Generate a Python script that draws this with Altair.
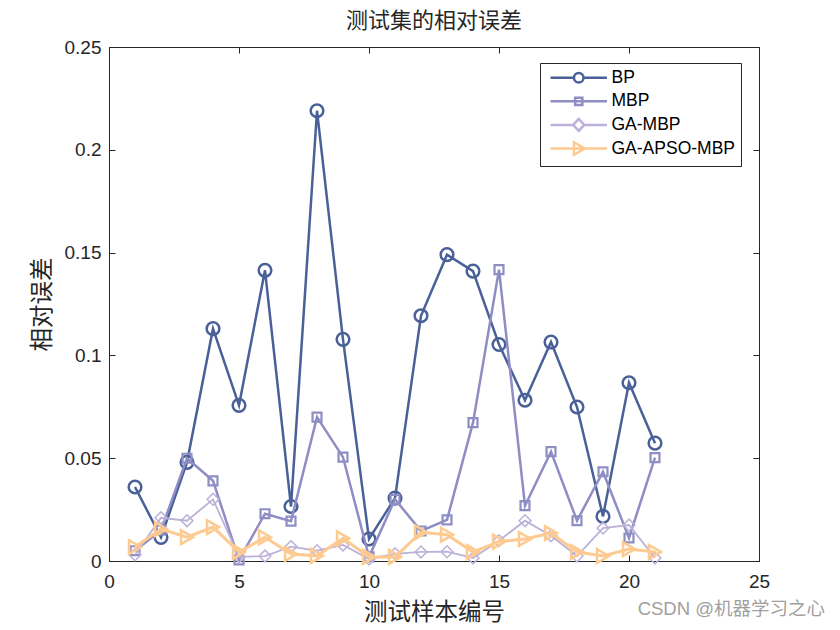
import altair as alt
import pandas as pd

# ---------------- data ----------------
sample_idx = list(range(1, 22))
series_names = ["BP", "MBP", "GA-MBP", "GA-APSO-MBP"]
bp_err = [0.036, 0.0115, 0.048, 0.113, 0.0757, 0.1414, 0.0265, 0.219, 0.1078, 0.0107, 0.0306,
          0.1193, 0.149, 0.141, 0.1053, 0.0782, 0.1065, 0.0749, 0.0217, 0.0867, 0.0573]
mbp_err = [0.005, 0.015, 0.050, 0.039, 0.0005, 0.023, 0.0194, 0.070, 0.0505, 0.002, 0.030,
           0.0146, 0.020, 0.0673, 0.1417, 0.0269, 0.0532, 0.0196, 0.0434, 0.0112, 0.0503]
ga_mbp_err = [0.003, 0.021, 0.0196, 0.030, 0.002, 0.0024, 0.007, 0.005, 0.0078, 0.001, 0.0035,
              0.0044, 0.0045, 0.0015, 0.0099, 0.0196, 0.0123, 0.0024, 0.016, 0.0175, 0.0015]
ga_apso_err = [0.0068, 0.0155, 0.0116, 0.0165, 0.0044, 0.0115, 0.0034, 0.0025, 0.011, 0.002, 0.002,
               0.014, 0.0128, 0.0044, 0.0094, 0.0107, 0.0136, 0.0044, 0.0024, 0.0058, 0.0044]
x_ticks = [0, 5, 10, 15, 20, 25]
y_ticks = [0, 0.05, 0.1, 0.15, 0.2, 0.25]
title_text = "测试集的相对误差"
x_title = "测试样本编号"
y_title = "相对误差"
watermark = "CSDN @机器学习之心"

# ---------------- styles ----------------
colors = ["#4a6098", "#8e8dc4", "#bcb1d9", "#fdca90"]
line_widths = [2.5, 2.5, 1.8, 3.0]
marker_shapes = ["circle", "square", "diamond", "triangle-right"]
marker_sizes = [160, 80, 140, 190]
marker_widths = [2.5, 2.2, 1.5, 2.5]

L = 4.7
legend_paths = [
    f"M{-L},0H-0.8M0.8,0H{L}M-0.8,0A0.8,0.8,0,1,1,0.8,0A0.8,0.8,0,1,1,-0.8,0Z",
    f"M{-L},0H{L}M-0.6,-0.6H0.6V0.6H-0.6Z",
    f"M{-L},0H-0.92M0.92,0H{L}M-0.92,0L0,-1L0.92,0L0,1Z",
    f"M{-L},0H{L}M-0.8,-1.05L1.0,0L-0.8,1.05Z",
]

rows = []
for name, vals in zip(series_names, [bp_err, mbp_err, ga_mbp_err, ga_apso_err]):
    for xi, v in zip(sample_idx, vals):
        rows.append({"idx": xi, "err": v, "series": name})
df = pd.DataFrame(rows)

W, H = 650, 514
TXT = "#262626"

xs = alt.Scale(domain=[0, 25], nice=False, zero=False)
ys = alt.Scale(domain=[0, 0.25], nice=False)

x_axis = alt.Axis(values=x_ticks, title=x_title, grid=True, gridDash=[6, H - 12],
                  gridColor=TXT, gridOpacity=1, gridWidth=1, ticks=False, tickSize=0,
                  domain=False, labelFont="Liberation Sans", labelFontSize=19,
                  labelColor=TXT, labelPadding=11, labelFlush=False, labelOverlap=False,
                  format="~g", titleFont="Noto Sans CJK SC", titleFontSize=23.5,
                  titleFontWeight="normal", titleColor=TXT, titlePadding=9)
y_axis = alt.Axis(values=y_ticks, title=y_title, grid=True, gridDash=[6, W - 12],
                  gridColor=TXT, gridOpacity=1, gridWidth=1, ticks=False, tickSize=0,
                  domain=False, labelFont="Liberation Sans", labelFontSize=19,
                  labelColor=TXT, labelPadding=8, labelFlush=False, labelOverlap=False,
                  format="~g", titleFont="Noto Sans CJK SC", titleFontSize=23.5,
                  titleFontWeight="normal", titleColor=TXT, titlePadding=10)

X = alt.X("idx:Q", scale=xs, axis=x_axis)
Y = alt.Y("err:Q", scale=ys, axis=y_axis)

layers = []
for i, name in enumerate(series_names):
    sub = alt.Chart(df).transform_filter(alt.datum.series == name)
    layers.append(sub.mark_line(strokeWidth=line_widths[i], color=colors[i]).encode(x=X, y=Y))
    layers.append(sub.mark_point(shape=marker_shapes[i], filled=False, opacity=1,
                                 color=colors[i], size=marker_sizes[i],
                                 strokeWidth=marker_widths[i]).encode(x=X, y=Y))

leg = alt.Legend(title=None, orient="none", legendX=431, legendY=16, symbolSize=144,
                 symbolStrokeWidth=2.5, symbolOffset=24, labelOffset=24,
                 labelFont="Liberation Sans", labelFontSize=17.5, labelColor="black",
                 strokeColor=TXT, fillColor="white", padding=6, rowPadding=-0.4,
                 gridAlign="all")

legend_layer = alt.Chart(df).transform_filter("datum.err < 0").mark_point(
    filled=False, opacity=1, size=144, strokeWidth=2.5).encode(
    x=X, y=Y,
    color=alt.Color("series:N", scale=alt.Scale(domain=series_names, range=colors), legend=leg),
    shape=alt.Shape("series:N", scale=alt.Scale(domain=series_names, range=legend_paths), legend=leg))
layers.append(legend_layer)

wm = alt.Chart(pd.DataFrame({"label": [watermark]})).mark_text(
    align="right", baseline="middle", font="Liberation Sans, Noto Sans CJK SC",
    fontSize=18.5, color="#a0a0a0").encode(x=alt.value(716), y=alt.value(562), text="label:N")
layers.append(wm)

chart = alt.layer(*layers).properties(
    width=W, height=H,
    title=alt.Title(title_text, font="Noto Sans CJK SC", fontSize=22, fontWeight="normal",
                    color=TXT, offset=5, anchor="middle"),
    padding={"left": 109, "top": 47, "right": 81, "bottom": 69},
    autosize=alt.AutoSizeParams(type="none"),
).configure_view(stroke=TXT, strokeWidth=1)

chart.save("out.html", embed_options={"renderer": "svg", "actions": False})
